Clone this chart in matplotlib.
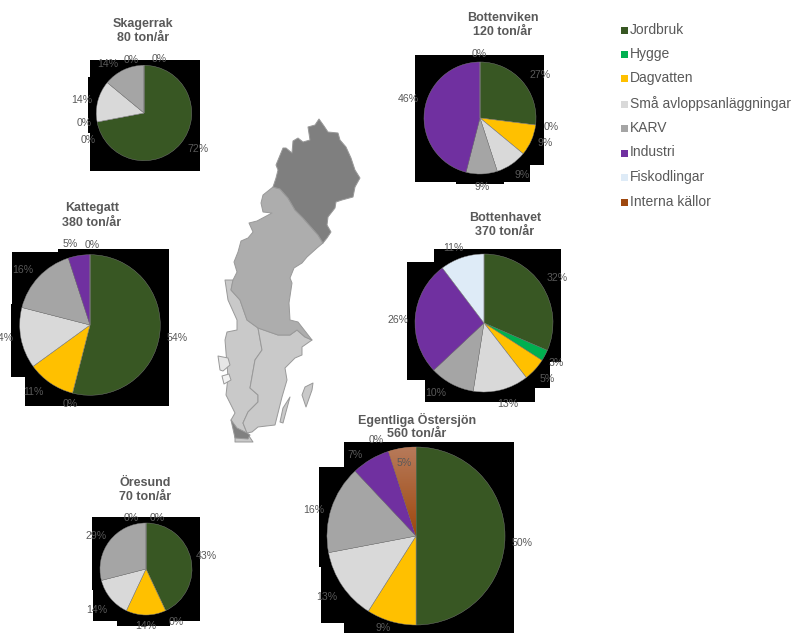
import numpy as np
import matplotlib
matplotlib.use("Agg")
import matplotlib.pyplot as plt
from matplotlib.patches import Polygon, Rectangle

plt.rcParams['font.family'] = ['Liberation Sans', 'DejaVu Sans']

W, H = 792, 633
categories = ['Jordbruk', 'Hygge', 'Dagvatten', 'Små avloppsanläggningar', 'KARV',
              'Industri', 'Fiskodlingar', 'Interna källor']
colors = ['#385723', '#00B050', '#FFC000', '#D9D9D9', '#A5A5A5', '#7030A0', '#DEEBF7', '#9E480E']

skagerrak = [72, 0, 0, 14, 14, 0, 0, 0]
kattegatt = [54, 0, 11, 14, 16, 5, 0, 0]
bottenviken = [27, 0, 9, 9, 9, 46, 0, 0]
bottenhavet = [31.5, 2.6, 5.4, 13, 10.5, 26.7, 10.3, 0]
egentliga = [50, 0, 9, 13, 16, 7, 0, 5]
oresund = [43, 0, 14, 14, 29, 0, 0, 0]

skagerrak_lab = ['72%', '0%', '0%', '14%', '14%', '0%', '0%']
kattegatt_lab = ['54%', '0%', '11%', '14%', '16%', '5%', '0%']
bottenviken_lab = ['27%', '0%', '9%', '9%', '9%', '46%', '0%']
bottenhavet_lab = ['32%', '3%', '5%', '13%', '10%', '26%', '11%']
egentliga_lab = ['50%', '9%', '13%', '16%', '7%', '0%', '5%']
oresund_lab = ['43%', '0%', '14%', '14%', '29%', '0%', '0%']

# layout in pixels (y down)
basins = [
    dict(title=('Skagerrak', '80 ton/år'), tpos=(143, 24, 38), c=(144, 113), r=47.7, vals=skagerrak, labs=skagerrak_lab,
         lpos=[(198, 149), (88, 140), (84, 123), (82, 100), (108, 64), (131, 60), (159, 59)],
         black=[(90, 60, 200, 171), (88, 77, 90, 133)]),
    dict(title=('Kattegatt', '380 ton/år'), tpos=(92, 208.5, 222.5), c=(90, 325), r=70.3, vals=kattegatt, labs=kattegatt_lab,
         lpos=[(177, 338), (70, 404), (33, 392), (3, 338), (23, 270), (70, 244), (92, 245)],
         black=[(58, 249, 169, 406), (12, 252, 58, 304), (11, 304, 58, 377), (25, 377, 58, 406)]),
    dict(title=('Bottenviken', '120 ton/år'), tpos=(503, 18, 32), c=(480, 118), r=56, vals=bottenviken, labs=bottenviken_lab,
         lpos=[(540, 75), (551, 127), (545, 143), (522, 175), (482, 187), (408, 99), (479, 54)],
         black=[(415, 55, 544, 165), (415, 165, 530, 182), (456, 182, 504, 184)]),
    dict(title=('Bottenhavet', '370 ton/år'), tpos=(505, 218, 232), c=(484, 323), r=69, vals=bottenhavet, labs=bottenhavet_lab,
         lpos=[(557, 278), (556, 363), (547, 379), (508, 404), (436, 393), (398, 320), (453, 248)],
         black=[(434, 249, 561, 362), (407, 262, 434, 380), (434, 362, 550, 388), (425, 380, 535, 402)]),
    dict(title=('Egentliga Östersjön', '560 ton/år'), tpos=(417, 420, 434), c=(416, 536), r=89, vals=egentliga, labs=egentliga_lab,
         lpos=[(522, 543), (383, 628), (327, 597), (314, 510), (355, 455), (376, 440), (404, 463)],
         black=[(344, 442, 514, 633), (319, 467, 344, 567), (321, 567, 344, 623), (344, 623, 361, 633)]),
    dict(title=('Öresund', '70 ton/år'), tpos=(145.5, 483, 497), c=(146, 569), r=46, vals=oresund, labs=oresund_lab,
         lpos=[(206, 556), (176, 622), (146, 626), (97, 610), (96, 536), (131, 518), (157, 518)],
         black=[(92, 517, 200, 590), (93, 590, 200, 621), (117, 621, 170, 626)]),
]

map_north = [(319,119),(324,126),(328,132),(338,133),(340,140),(346,147),(351,158),(355,170),(360,178),(355,187),
             (353,197),(342,200),(336,202),(335,208),(328,217),(327,225),(331,232),(327,238),(323,243),(318,235),
             (303,218),(295,210),(288,198),(280,189),(273,187),(276,178),(278,170),(276,165),(283,148),(286,148),
             (292,153),(293,141),(298,138),(303,142),(310,140),(308,127),(315,125)]
map_mid = [(273,187),(263,195),(261,203),(263,212),(272,213),(257,221),(249,223),(253,232),(248,238),(241,241),
           (238,252),(234,262),(237,272),(233,280),(231,290),(240,300),(247,320),(258,328),(278,335),(290,335),
           (297,330),(305,337),(312,340),(298,322),(290,320),(289,303),(292,283),(290,278),(294,268),(302,263),
           (307,257),(317,248),(323,243),(318,235),(303,218),(295,210),(288,198),(280,189)]
map_sw = [(225,280),(233,280),(231,290),(240,300),(247,320),(258,328),(262,350),(255,360),(250,388),(258,395),
          (258,402),(248,412),(243,423),(247,433),(253,442),(235,442),(235,428),(231,420),(235,413),(226,395),
          (228,377),(225,340),(227,332),(237,330),(237,320),(228,300)]
map_se = [(258,328),(278,335),(290,335),(297,330),(305,337),(312,340),(302,347),(302,355),(295,358),(285,368),
          (287,380),(282,397),(278,413),(275,425),(258,427),(252,432),(247,433),(243,423),(248,412),(258,402),
          (258,395),(250,388),(255,360),(262,350)]
map_skane = [(231,420),(237,428),(247,433),(250,435),(248,439),(235,438)]
map_oland = [(290,397),(283,423),(280,422),(283,408)]
map_gotland = [(313,383),(312,390),(306,407),(302,395),(305,387)]
map_vanern = [(218,356),(228,358),(230,365),(223,371),(220,370)]
map_vattern = [(222,376),(229,374),(231,380),(224,384)]

fig = plt.figure(figsize=(W / 100, H / 100), dpi=100)
ax = fig.add_axes([0, 0, 1, 1])


def P(pts):
    return [(x, H - y) for x, y in pts]


for pts, col in [(map_sw, '#c9c9c9'), (map_se, '#c9c9c9'), (map_mid, '#adadad'), (map_north, '#7f7f7f'),
                 (map_skane, '#808080'), (map_oland, '#c9c9c9'), (map_gotland, '#c9c9c9'),
                 (map_vanern, '#e6e6e6'), (map_vattern, '#f2f2f2')]:
    ax.add_patch(Polygon(P(pts), closed=True, fc=col, ec='#999999', lw=0.7, joinstyle='round', zorder=1))

for b in basins:
    for x0, y0, x1, y1 in b['black']:
        ax.add_patch(Rectangle((x0, H - y1), x1 - x0, y1 - y0, fc='black', ec='none', zorder=2))

for b in basins:
    cx, cy = b['c']
    wedges, _ = ax.pie(b['vals'], colors=colors, center=(cx, H - cy), radius=b['r'], startangle=90,
                       counterclock=False, wedgeprops=dict(edgecolor='#7f7f7f', linewidth=0.3, zorder=3))
    for w in wedges:
        w.set_zorder(3)
    # gradient in the internal-sources slice
    w = wedges[-1]
    if b['vals'][-1] > 0:
        grad = np.linspace(0, 1, 64)[:, None, None]
        top = np.array(matplotlib.colors.to_rgb('#B77A5A'))
        bot = np.array(matplotlib.colors.to_rgb('#9E480E'))
        img = top + (bot - top) * grad
        im = ax.imshow(img, extent=(cx - 30, cx + 1, H - cy, H - cy + b['r']), origin='upper',
                       aspect='auto', zorder=3.5, interpolation='bilinear')
        im.set_clip_path(w)
    for (lx, ly), t in zip(b['lpos'], b['labs']):
        ax.text(lx, H - ly, t, ha='center', va='center', fontsize=7.6, color='#595959', zorder=5)
    tx, ty1, ty2 = b['tpos']
    for line, ty in zip(b['title'], (ty1, ty2)):
        ax.text(tx, H - ty, line, ha='center', va='center', fontsize=9.0,
                fontweight='bold', color='#595959', zorder=5)

legend_y = [30, 54.5, 78.7, 104, 128.5, 153, 177, 202]
for name, col, y in zip(categories, colors, legend_y):
    ax.add_patch(Rectangle((621, H - y - 3.5), 7, 7, fc=col, ec='none', zorder=5))
    ax.text(630, H - y + 0.5, name, ha='left', va='center', fontsize=10, color='#595959', zorder=5)

ax.set_xlim(0, W)
ax.set_ylim(0, H)
ax.set_aspect('equal')
ax.axis('off')
fig.savefig('out.png', dpi=100, facecolor='white')
